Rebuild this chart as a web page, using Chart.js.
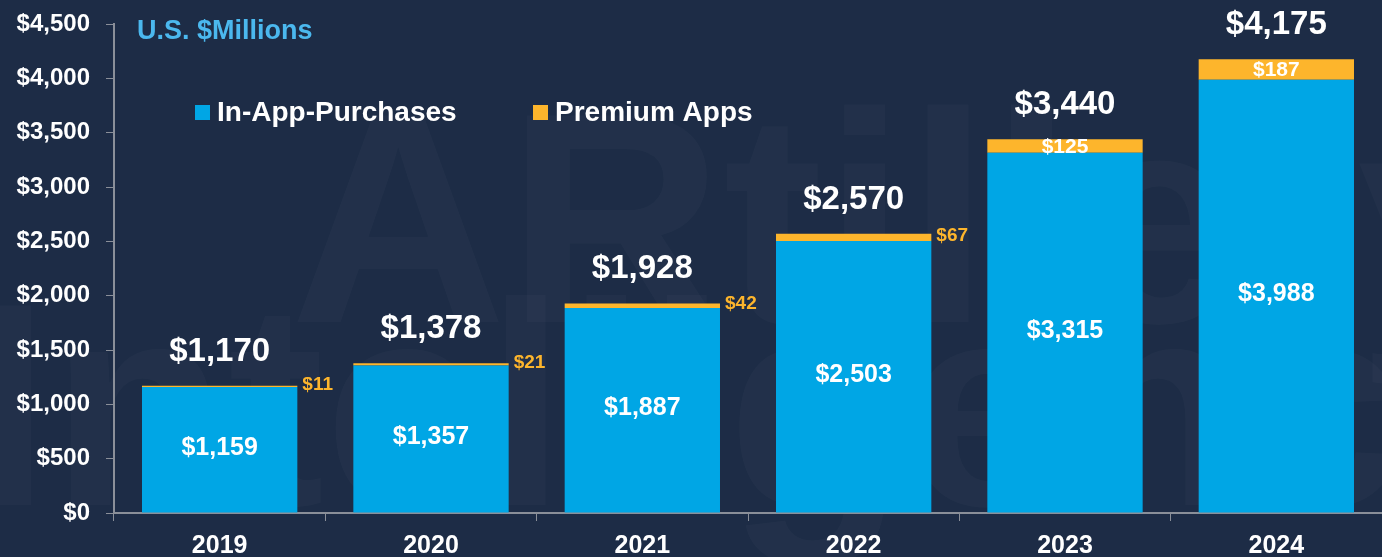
<!DOCTYPE html>
<html>
<head>
<meta charset="utf-8">
<script src="https://cdn.jsdelivr.net/npm/chart.js@4"></script>
<style>
  html,body{margin:0;padding:0;background:#1d2c46;}
  #chart{display:block;}
</style>
</head>
<body>
<canvas id="chart" width="1382" height="557"></canvas>
<script>
// data (U.S. $Millions)
const years = ["2019","2020","2021","2022","2023","2024"];
const inApp = [1159,1357,1887,2503,3315,3988];
const premium = [11,21,42,67,125,187];
const totals = [1170,1378,1928,2570,3440,4175];
const yTicks = [0,500,1000,1500,2000,2500,3000,3500,4000,4500];

const BG = "#1d2c46";
const BLUE = "#00a6e5";
const ORANGE = "#fdb52c";
const FONT = "'Liberation Sans', Arial, sans-serif";

function money(v){ return "$" + v.toLocaleString("en-US"); }

// background + faint watermark
const backdrop = {
  id:"backdrop",
  beforeDraw(chart){
    const c = chart.ctx;
    c.save();
    c.fillStyle = BG;
    c.fillRect(0,0,chart.width,chart.height);
    c.fillStyle = "rgba(255,255,255,0.022)";
    c.textBaseline = "alphabetic";
    c.font = "bold 300px " + FONT;
    c.fillText("ARtillery", 290, 322);
    c.font = "bold 290px " + FONT;
    c.fillText("Intelligence", -30, 505);
    c.restore();
  }
};

// title, legend and value labels
const labels = {
  id:"labels",
  afterDatasetsDraw(chart){
    const c = chart.ctx;
    c.save();
    c.textBaseline = "middle";

    // title
    c.fillStyle = "#4bb8ee";
    c.font = "bold 27px " + FONT;
    c.textAlign = "left";
    c.fillText("U.S. $Millions", 137, 32);

    // legend
    c.font = "bold 28px " + FONT;
    c.fillStyle = BLUE;
    c.fillRect(195,105,15,15);
    c.fillStyle = "#fff";
    c.fillText("In-App-Purchases", 217, 113);
    c.fillStyle = ORANGE;
    c.fillRect(533,105,15,15);
    c.fillStyle = "#fff";
    c.fillText("Premium Apps", 555, 113);

    const m0 = chart.getDatasetMeta(0).data;
    const m1 = chart.getDatasetMeta(1).data;
    m0.forEach((bar,i)=>{
      // blue value in middle of segment
      c.textAlign = "center";
      c.fillStyle = "#fff";
      c.font = "bold 25px " + FONT;
      c.fillText(money(inApp[i]), bar.x, (bar.y + bar.base)/2 - 2);

      // premium value
      const p = m1[i];
      const mid = (p.y + p.base)/2;
      if(p.base - p.y > 12){
        c.font = "bold 21px " + FONT;
        c.fillStyle = "#fff";
        c.fillText(money(premium[i]), p.x, mid + 1);
      } else {
        c.font = "bold 19px " + FONT;
        c.fillStyle = ORANGE;
        c.textAlign = "left";
        c.fillText(money(premium[i]), p.x + p.width/2 + 5, mid - 2);
      }

      // total above
      c.textAlign = "center";
      c.fillStyle = "#fff";
      c.font = "bold 33px " + FONT;
      c.fillText(money(totals[i]), p.x, p.y - 34);
    });
    c.restore();
  }
};

new Chart(document.getElementById("chart"),{
  type:"bar",
  data:{
    labels:years,
    datasets:[
      {label:"In-App-Purchases", data:inApp, backgroundColor:BLUE, barPercentage:0.735, categoryPercentage:1},
      {label:"Premium Apps", data:premium, backgroundColor:ORANGE, barPercentage:0.735, categoryPercentage:1}
    ]
  },
  options:{
    responsive:false,
    animation:false,
    layout:{padding:{top:24,right:0,bottom:0,left:0}},
    plugins:{legend:{display:false}, tooltip:{enabled:false}},
    scales:{
      x:{
        stacked:true,
        afterFit(s){ s.height = 44; },
        grid:{display:true, offset:true, drawOnChartArea:false, drawTicks:true, tickLength:8, color:"#8a8f99"},
        border:{color:"#8a8f99", width:2},
        ticks:{color:"#fff", font:{family:FONT, size:25, weight:"bold"}, padding:10}
      },
      y:{
        stacked:true,
        min:0, max:4500,
        afterFit(s){ s.width = 114; s.paddingTop = 0; s.paddingBottom = 0; },
        afterBuildTicks(s){ s.ticks = yTicks.map(v=>({value:v})); },
        grid:{display:true, drawOnChartArea:false, drawTicks:true, tickLength:8, color:"#8a8f99"},
        border:{color:"#8a8f99", width:2},
        ticks:{color:"#fff", font:{family:FONT, size:24, weight:"bold"}, padding:16, callback:v=>money(v)}
      }
    }
  },
  plugins:[backdrop, labels]
});
</script>
</body>
</html>
